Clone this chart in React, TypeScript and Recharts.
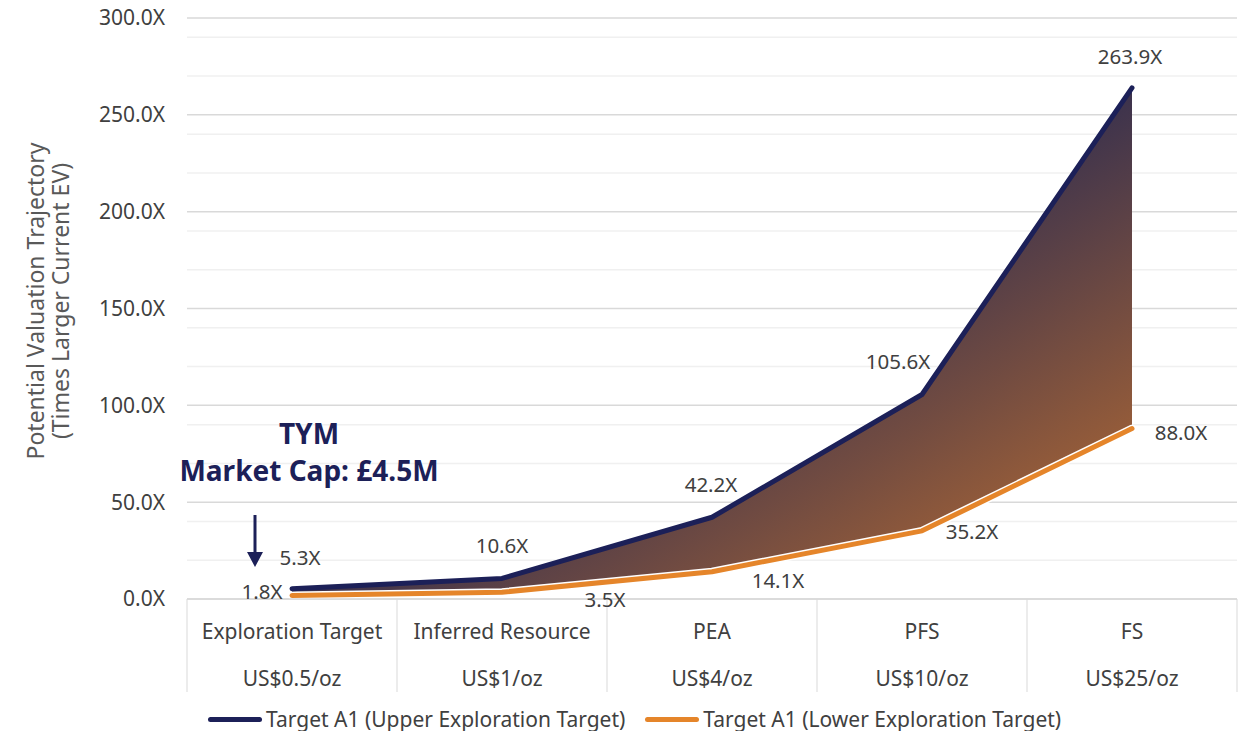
import React from "react";
import {
  ComposedChart,
  Area,
  Line,
  XAxis,
  YAxis,
  CartesianGrid,
  LabelList,
  Customized,
} from "recharts";

// chart values
const stages = ["Exploration Target", "Inferred Resource", "PEA", "PFS", "FS"];
const prices = ["US$0.5/oz", "US$1/oz", "US$4/oz", "US$10/oz", "US$25/oz"];
const upperValues = [5.3, 10.6, 42.2, 105.6, 263.9];
const lowerValues = [1.8, 3.5, 14.1, 35.2, 88.0];
const majorTicks = [0, 50, 100, 150, 200, 250, 300];
const minorTicks = [
  10, 20, 30, 40, 60, 70, 80, 90, 110, 120, 130, 140, 160, 170, 180, 190,
  210, 220, 230, 240, 260, 270, 280, 290,
];

const data = stages.map((stage, i) => ({
  stage,
  price: prices[i],
  upper: upperValues[i],
  lower: lowerValues[i],
}));

// layout
const W = 1238;
const H = 731;
const MARGIN = { top: 18, right: 1, bottom: 32, left: 0 };
const Y_AXIS_W = 187;
const X_AXIS_H = 100;
const PLOT_W = W - MARGIN.left - MARGIN.right - Y_AXIS_W;

const NAVY = "#1c2058";
const ORANGE = "#e5852a";
const TEXT = "#404040";
const FONT = "'Noto Sans', 'Open Sans', sans-serif";

// label offsets (dx, dy) from each point, centre of text
const upperLabelOffsets = [
  [8, -32],
  [0, -33],
  [-1, -33],
  [-24, -33],
  [-2, -32],
];
const lowerLabelOffsets = [
  [-30, -5],
  [103, 7],
  [66, 8],
  [50, 0],
  [49, 3],
];

const makeLabel = (offsets: number[][]) => (props: any) => {
  const { x, y, value, index } = props;
  const o = offsets[index] || [0, -20];
  return (
    <text
      x={x + o[0]}
      y={y + o[1]}
      textAnchor="middle"
      dominantBaseline="central"
      fill={TEXT}
      fontSize={20.5}
      fontFamily={FONT}
    >
      {`${Number(value).toFixed(1)}X`}
    </text>
  );
};

const StageTick = (props: any) => {
  const { x, y, payload, index } = props;
  const band = PLOT_W / stages.length;
  const i = payload?.index ?? index;
  const boxH = 93;
  return (
    <g>
      <line x1={x - band / 2} y1={y} x2={x - band / 2} y2={y + boxH} stroke="#d9d9d9" />
      {i === stages.length - 1 && (
        <line x1={x + band / 2} y1={y} x2={x + band / 2} y2={y + boxH} stroke="#d9d9d9" />
      )}
      <text x={x} y={y + 32} textAnchor="middle" dominantBaseline="central" fill={TEXT} fontSize={21} fontFamily={FONT}>
        {payload.value}
      </text>
      <text x={x} y={y + 79} textAnchor="middle" dominantBaseline="central" fill={TEXT} fontSize={21} fontFamily={FONT}>
        {prices[i]}
      </text>
    </g>
  );
};

const Annotations = () => (
  <g fontFamily={FONT}>
    <text
      transform="translate(35, 301) rotate(-90)"
      textAnchor="middle"
      dominantBaseline="central"
      fill="#595959"
      fontSize={23}
    >
      Potential Valuation Trajectory
    </text>
    <text
      transform="translate(60, 301) rotate(-90)"
      textAnchor="middle"
      dominantBaseline="central"
      fill="#595959"
      fontSize={23}
    >
      (Times Larger Current EV)
    </text>
    <text x={309} y={433} textAnchor="middle" dominantBaseline="central" fill={NAVY} fontSize={28} fontWeight="bold">
      TYM
    </text>
    <text x={309} y={470} textAnchor="middle" dominantBaseline="central" fill={NAVY} fontSize={28} fontWeight="bold">
      Market Cap: £4.5M
    </text>
    <line x1={255} y1={515} x2={255} y2={555} stroke={NAVY} strokeWidth={3} />
    <polygon points="247,552 263,552 255,567" fill={NAVY} />
  </g>
);

const LegendItem = ({ color, label }: { color: string; label: string }) => (
  <div style={{ display: "flex", alignItems: "center", marginRight: 20 }}>
    <div style={{ width: 54, height: 5, borderRadius: 3, background: color, marginRight: 4 }} />
    <span style={{ fontSize: 21, color: TEXT, fontFamily: FONT }}>{label}</span>
  </div>
);

export default function App() {
  return (
    <div style={{ position: "absolute", left: 0, top: 0, width: W, height: H, background: "#fff" }}>
      <ComposedChart width={W} height={H} data={data} margin={MARGIN} style={{ fontFamily: FONT }}>
        <defs>
          <linearGradient id="bandFill" x1="0" y1="0" x2="1" y2="1">
            <stop offset="0" stopColor="#1f2352" />
            <stop offset="0.45" stopColor="#2e2c50" />
            <stop offset="1" stopColor="#c07030" />
          </linearGradient>
        </defs>
        <CartesianGrid vertical={false} horizontalValues={minorTicks} stroke="#f0f0f0" strokeWidth={1.5} />
        <CartesianGrid vertical={false} horizontalValues={majorTicks} stroke="#d9d9d9" strokeWidth={1.5} />
        <XAxis
          dataKey="stage"
          scale="band"
          height={X_AXIS_H}
          axisLine={{ stroke: "#d9d9d9", strokeWidth: 1.5 }}
          tickLine={false}
          tickSize={0}
          tickMargin={0}
          interval={0}
          tick={<StageTick />}
        />
        <YAxis
          width={Y_AXIS_W}
          domain={[0, 300]}
          ticks={majorTicks}
          axisLine={false}
          tickLine={false}
          tickSize={0}
          tickMargin={22}
          tick={{ fill: TEXT, fontSize: 21, fontFamily: FONT }}
          tickFormatter={(v: number) => `${v.toFixed(1)}X`}
        />
        <Area
          type="linear"
          dataKey={(d: any) => [d.lower, d.upper]}
          stroke="none"
          fill="url(#bandFill)"
          fillOpacity={1}
          isAnimationActive={false}
        />
        <Line
          type="linear"
          dataKey="lower"
          stroke="#ffffff"
          strokeWidth={8}
          dot={false}
          strokeLinecap="round"
          isAnimationActive={false}
        />
        <Line
          type="linear"
          dataKey="lower"
          stroke={ORANGE}
          strokeWidth={5}
          dot={false}
          strokeLinecap="round"
          strokeLinejoin="round"
          isAnimationActive={false}
        >
          <LabelList dataKey="lower" content={makeLabel(lowerLabelOffsets)} />
        </Line>
        <Line
          type="linear"
          dataKey="upper"
          stroke={NAVY}
          strokeWidth={5}
          dot={false}
          strokeLinecap="round"
          strokeLinejoin="round"
          isAnimationActive={false}
        >
          <LabelList dataKey="upper" content={makeLabel(upperLabelOffsets)} />
        </Line>
        <Customized component={Annotations} />
      </ComposedChart>
      <div style={{ position: "absolute", left: 208, top: 705, display: "flex" }}>
        <LegendItem color={NAVY} label="Target A1 (Upper Exploration Target)" />
        <LegendItem color={ORANGE} label="Target A1 (Lower Exploration Target)" />
      </div>
    </div>
  );
}
